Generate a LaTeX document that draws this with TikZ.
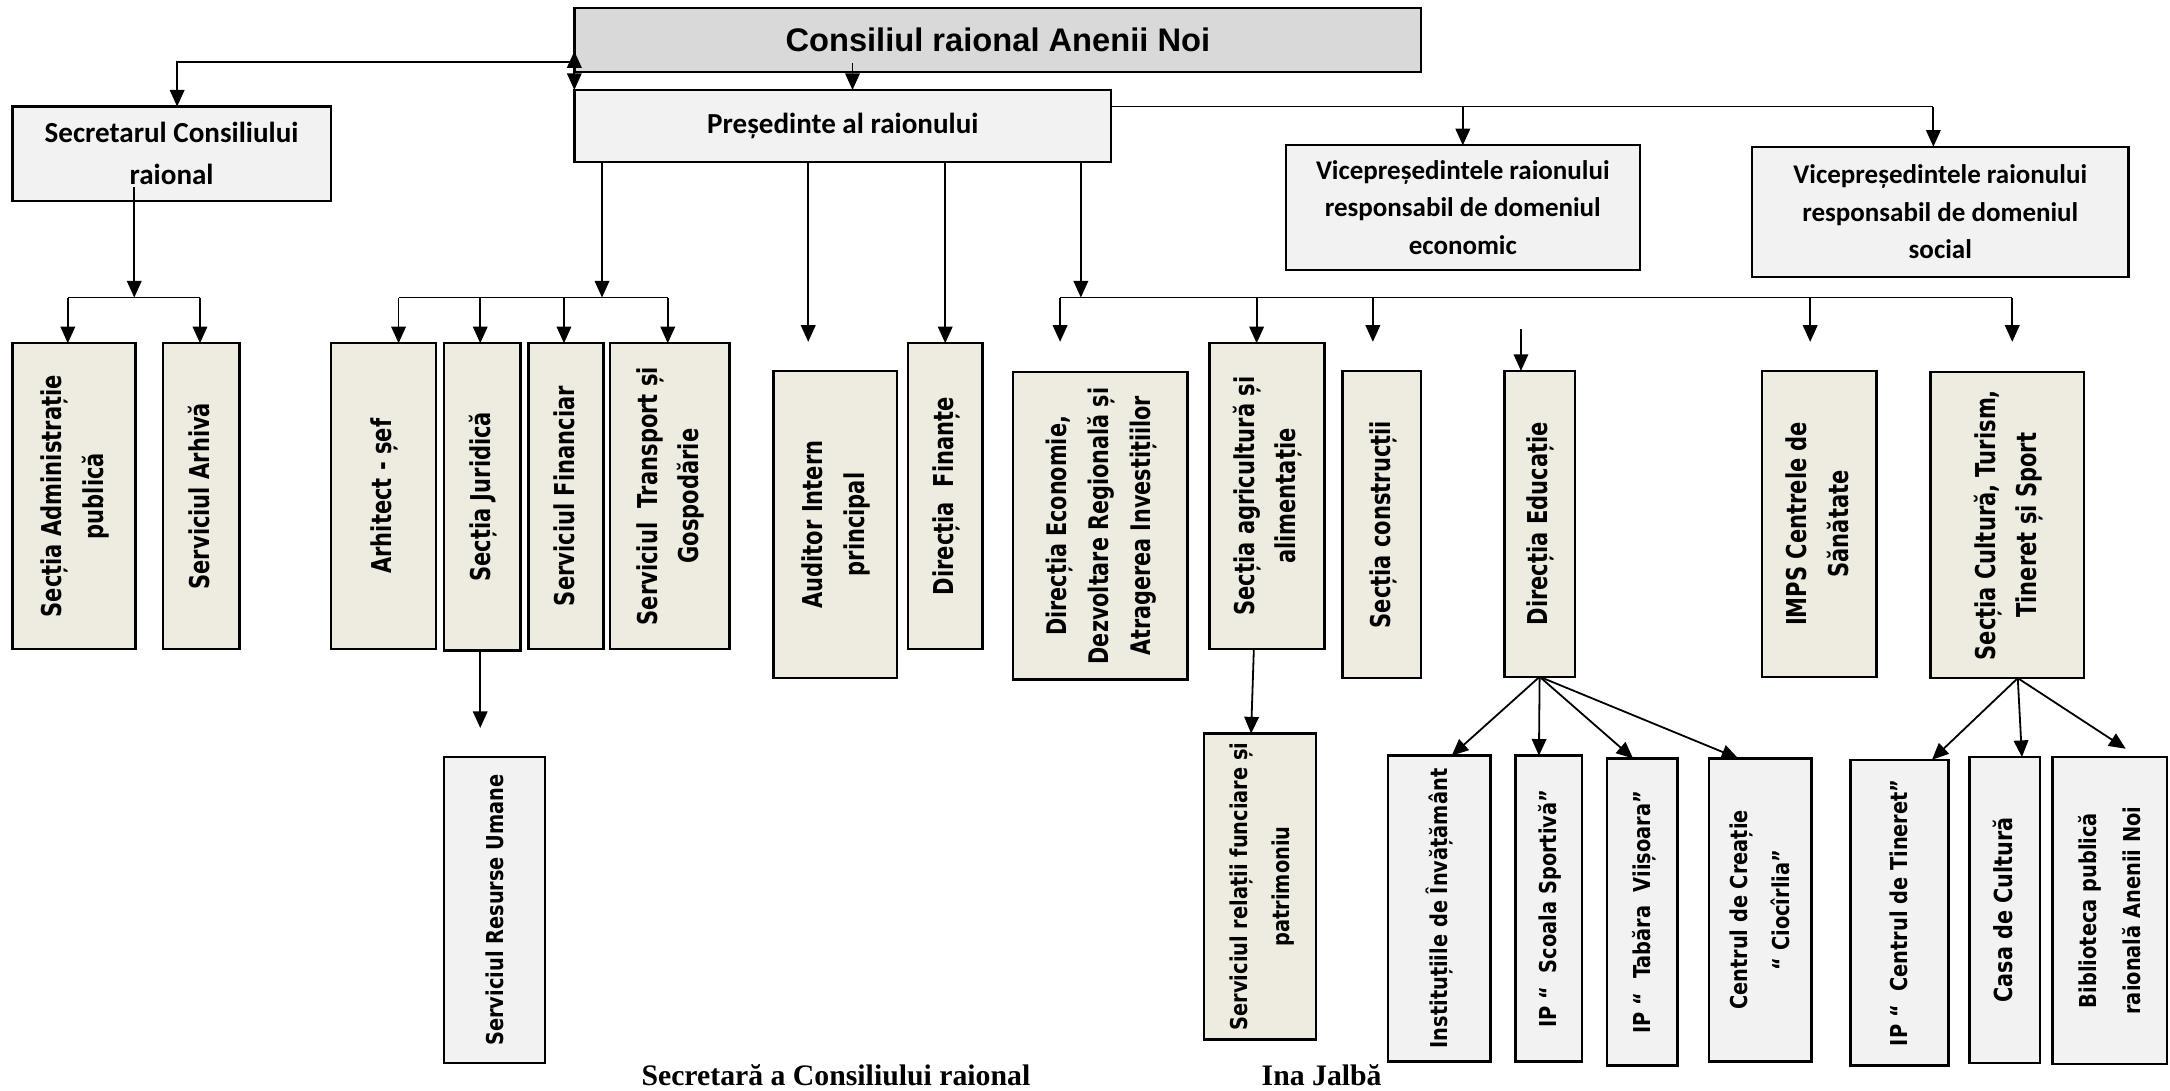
\documentclass[tikz,border=0pt]{standalone}
\usepackage{fontspec}
\usepackage{graphicx}
\setmainfont{Liberation Serif}
\newfontfamily\dvfont{DejaVu Sans}
\newfontfamily\calfont{Carlito}
\newfontfamily\arfont{Liberation Sans}
\usetikzlibrary{arrows.meta}
\definecolor{topgray}{HTML}{D9D9D9}
\definecolor{lgray}{HTML}{F2F2F2}
\definecolor{beige}{HTML}{EEECE1}
% size, cross stretch, baselineskip, text
\newcommand\vtext[4]{\rotatebox{90}{\scalebox{1}[#2]{\fontsize{#1}{#3}\selectfont\begin{tabular}{@{}c@{}}#4\end{tabular}}}}
\newcommand\vta[1]{\vtext{15.2}{1.3}{23}{#1}}
\newcommand\vtb[1]{\vtext{14}{1.2}{25}{#1}}
\tikzset{
  box/.style={draw, line width=1.7pt, inner sep=0pt, outer sep=0pt, anchor=north west},
  vbox/.style={box, font=\dvfont\bfseries},
  hbox/.style={box, align=center, font=\calfont\bfseries\fontsize{21}{30}\selectfont},
  arr/.style={line width=1.3pt, -{Triangle[length=12pt,width=10.5pt]}},
  darr/.style={line width=1.3pt, {Triangle[length=12pt,width=10.5pt]}-{Triangle[length=12pt,width=10.5pt]}},
  conn/.style={line width=1.3pt},
  sig/.style={anchor=base, font=\bfseries\fontsize{21.5}{24}\selectfont}
}
\begin{document}
\begin{tikzpicture}[x=1pt,y=-1pt]
\useasboundingbox (0,0) rectangle (1568,788);
% top level
\node[box, fill=topgray, minimum width=612pt, minimum height=46pt, font=\arfont\bfseries\fontsize{23.6}{27}\selectfont] (top) at (415,6) {Consiliul raional Anenii Noi};
\node[hbox, fill=lgray, minimum width=388pt, minimum height=52pt] (pres) at (415,65) {\raisebox{4pt}{Președinte al raionului}};
\node[hbox, fill=lgray, minimum width=230pt, minimum height=68pt] (secr) at (9,77) {Secretarul Consiliului\\raional};
\node[hbox, fill=lgray, minimum width=256pt, minimum height=90pt, font=\calfont\bfseries\fontsize{19.5}{27}\selectfont] (vecon) at (929,105) {Vicepreședintele raionului\\responsabil de domeniul\\economic};
\node[hbox, fill=lgray, minimum width=272pt, minimum height=94pt, font=\calfont\bfseries\fontsize{19.5}{27}\selectfont] (vsoc) at (1266,106) {Vicepreședintele raionului\\responsabil de domeniul\\social};
% row 1
\node[vbox, fill=beige, minimum width=89pt, minimum height=221pt] (adm) at (9,248) {\vta{Secția Administrație\\publică}};
\node[vbox, fill=beige, minimum width=55pt, minimum height=221pt] (arh) at (118,248) {\vta{Serviciul Arhivă}};
\node[vbox, fill=beige, minimum width=76pt, minimum height=221pt] (arhit) at (239,248) {\vta{Arhitect - șef}};
\node[vbox, fill=beige, minimum width=55pt, minimum height=222pt] (jur) at (321,248) {\vta{Secția Juridică}};
\node[vbox, fill=beige, minimum width=54pt, minimum height=221pt] (fin) at (382,248) {\vta{Serviciul Financiar}};
\node[vbox, fill=beige, minimum width=86pt, minimum height=221pt] (trans) at (441,248) {\vta{Serviciul\ \ Transport și\\Gospodărie}};
\node[vbox, fill=beige, minimum width=89pt, minimum height=222pt] (aud) at (559,268) {\vta{Auditor Intern\\principal}};
\node[vbox, fill=beige, minimum width=54pt, minimum height=221pt] (dfin) at (656,248) {\vta{Direcția\ \ Finanțe}};
\node[vbox, fill=beige, minimum width=126pt, minimum height=222pt] (dec) at (732,269) {\vtext{15}{1.3}{23.5}{Direcția Economie,\\Dezvoltare Regională și\\Atragerea Investițiilor}};
\node[vbox, fill=beige, minimum width=83pt, minimum height=221pt] (agr) at (874,248) {\vta{Secția agricultură și\\alimentație}};
\node[vbox, fill=beige, minimum width=57pt, minimum height=222pt] (con) at (970,268) {\vta{Secția construcții}};
\node[vbox, fill=beige, minimum width=51pt, minimum height=221pt] (edu) at (1087,268) {\vta{Direcția Educație}};
\node[vbox, fill=beige, minimum width=83pt, minimum height=221pt] (imps) at (1273,268) {\vta{IMPS Centrele de\\Sănătate}};
\node[vbox, fill=beige, minimum width=111pt, minimum height=221pt] (cult) at (1395,269) {\vta{Secția Cultură, Turism,\\Tineret și Sport}};
% row 2
\node[vbox, fill=lgray, minimum width=73pt, minimum height=221pt] (rum) at (321,547) {\vtb{Serviciul Resurse Umane}};
\node[vbox, fill=beige, minimum width=81pt, minimum height=221pt] (func) at (870,530) {\vtb{Serviciul relații funciare și\\patrimoniu}};
\node[vbox, fill=lgray, minimum width=74pt, minimum height=221pt] (inst) at (1003,546) {\vtb{Instituțiile de Învățământ}};
\node[vbox, fill=lgray, minimum width=48pt, minimum height=221pt] (scoala) at (1095,546) {\vtb{IP “\ \ Scoala Sportivă”}};
\node[vbox, fill=lgray, minimum width=51pt, minimum height=222pt] (tab) at (1161,548) {\vtb{IP “\ \ Tabăra\ \ Viișoara”}};
\node[vbox, fill=lgray, minimum width=74pt, minimum height=219pt] (cioc) at (1235,548) {\vtb{Centrul de Creație\\“ Ciocîrlia”}};
\node[vbox, fill=lgray, minimum width=71pt, minimum height=221pt] (tin) at (1337,549) {\vtb{IP “\ \ Centrul de Tineret”}};
\node[vbox, fill=lgray, minimum width=51pt, minimum height=221pt] (casa) at (1423,547) {\vtext{15}{1.2}{25}{Casa de Cultură}};
\node[vbox, fill=lgray, minimum width=83pt, minimum height=222pt] (bib) at (1483,547) {\vtext{14}{1.2}{26.5}{Biblioteca publică\\raională Anenii Noi}};
% signature
\node[sig] (sig1) at (604,784) {Secretară a Consiliului raional};
\node[sig] (sig2) at (955,784) {Ina Jalbă};
% connectors: top
\coordinate (t1) at (616,45.5);
\draw[arr] (t1) -- (t1 |- pres.north);
\coordinate (t2) at (415,37);
\draw[darr] (t2) -- (t2 |- pres.north);
\coordinate (t3) at (415,45);
\coordinate (t4) at (128,45);
\draw[arr] (t3) -- (t4) -- (t4 |- secr.north);
% secretar
\coordinate (s1) at (97,135);
\coordinate (s2) at (97,215);
\coordinate (s3) at (49,215);
\coordinate (s4) at (144.5,215);
\draw[arr] (s1) -- (s2);
\draw[conn] (s3) -- (s4);
\draw[arr] (s3) -- (s3 |- adm.north);
\draw[arr] (s4) -- (s4 |- arh.north);
% presedinte bus 2
\coordinate (p1) at (435,215);
\coordinate (p2) at (288,215);
\coordinate (p3) at (482.5,215);
\coordinate (p4) at (347,215);
\coordinate (p5) at (407.5,215);
\draw[arr] (pres.south -| p1) -- (p1);
\draw[conn] (p2) -- (p3);
\draw[arr] (p2) -- (p2 |- arhit.north);
\draw[arr] (p4) -- (p4 |- jur.north);
\draw[arr] (p5) -- (p5 |- fin.north);
\draw[arr] (p3) -- (p3 |- trans.north);
% auditor, finante
\coordinate (a1) at (584,247);
\draw[arr] (pres.south -| a1) -- (a1);
\draw[arr] (pres.south -| dfin.north) -- (dfin.north);
% bus 3
\coordinate (q0) at (781,215);
\coordinate (q1) at (766,215);
\coordinate (q2) at (1454,215);
\coordinate (q3) at (908,215);
\coordinate (q4) at (992,215);
\coordinate (q5) at (1308,215);
\coordinate (q1e) at (766,247);
\coordinate (q2e) at (1454,247);
\coordinate (q4e) at (992,247);
\coordinate (q5e) at (1308,247);
\draw[arr] (pres.south -| q0) -- (q0);
\draw[conn] (q1) -- (q2);
\draw[arr] (q1) -- (q1e);
\draw[arr] (q3) -- (q3 |- agr.north);
\draw[arr] (q4) -- (q4e);
\draw[arr] (q5) -- (q5e);
\draw[arr] (q2) -- (q2e);
\coordinate (e0) at (1099,238);
\draw[arr] (e0) -- (e0 |- edu.north);
% vice
\coordinate (v0) at (803,77);
\coordinate (v1) at (1397,77);
\draw[conn] (v0) -- (v1);
\draw[arr] (v0 -| vecon.north) -- (vecon.north);
\draw[arr] (v1) -- (v1 |- vsoc.north);
% row 2 connectors
\coordinate (r1) at (347,526);
\draw[arr] (jur.south -| r1) -- (r1);
\draw[arr] ([xshift=-9.5pt]agr.south) -- ([xshift=-6.5pt]func.north);
\draw[arr] (edu.south) -- ([xshift=9pt]inst.north);
\draw[arr] (edu.south) -- ([xshift=-7pt]scoala.north);
\draw[arr] (edu.south) -- ([xshift=-6.5pt]tab.north);
\draw[arr] (edu.south) -- ([xshift=-16pt]cioc.north);
\coordinate (co) at (1458,490);
\coordinate (be) at (1536,541);
\draw[arr] (co) -- ([xshift=23.5pt]tin.north);
\draw[arr] (co) -- ([xshift=12.5pt]casa.north);
\draw[arr] (co) -- (be);
\end{tikzpicture}
\end{document}
